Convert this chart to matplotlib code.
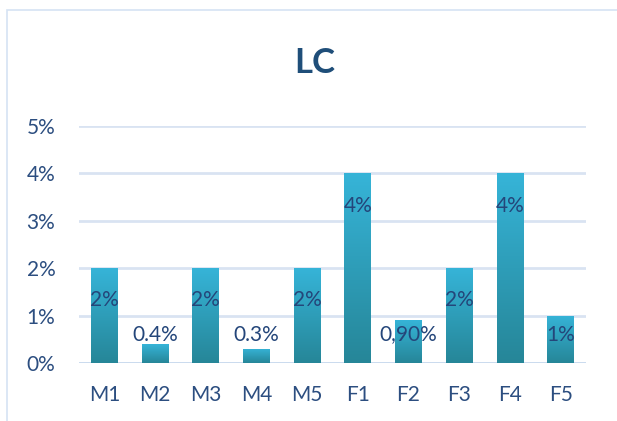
import numpy as np
import matplotlib
matplotlib.use("Agg")
import matplotlib.pyplot as plt
from matplotlib.patches import Rectangle
from matplotlib.colors import LinearSegmentedColormap

# Daten
kategorien = ["M1", "M2", "M3", "M4", "M5", "F1", "F2", "F3", "F4", "F5"]
werte = [2, 0.4, 2, 0.3, 2, 4, 0.9, 2, 4, 1]  # in %
beschriftungen = ["2%", "0.4%", "2%", "0.3%", "2%", "4%", "0,90%", "2%", "4%", "1%"]
y_ticks = [0, 1, 2, 3, 4, 5]

plt.rcParams['font.family'] = ['Lato', 'DejaVu Sans']

fig = plt.figure(figsize=(6.17, 4.21), dpi=100)
ax = fig.add_axes([79 / 617, 0.1378, 507 / 617, 0.5629])

# Rahmen um das Diagramm
fig.patches.append(Rectangle((7 / 617, -0.1), 1.2, 1 - 10 / 421 + 0.1,
                             transform=fig.transFigure, fill=False,
                             edgecolor='#D5E3F3', linewidth=1.2))

x = np.arange(len(kategorien))
bars = ax.bar(x, werte, width=0.53, color='#2E9DBB', zorder=2)

# Farbverlauf in den Balken
cmap = LinearSegmentedColormap.from_list('verlauf', ['#268698', '#36B4D8'])
grad = np.linspace(0, 1, 256).reshape(-1, 1)
for b in bars:
    x0, y0 = b.get_x(), b.get_y()
    im = ax.imshow(grad, cmap=cmap, aspect='auto', origin='lower',
                   extent=[x0, x0 + b.get_width(), y0, y0 + b.get_height()],
                   zorder=3)
    im.set_clip_path(b)

# Datenbeschriftungen
for xi, v, t in zip(x, werte, beschriftungen):
    ax.text(xi, max(v - 0.68, 0.6), t, ha='center', va='center',
            fontsize=15, color='#24467A', zorder=4)

ax.set_xlim(-0.5, len(kategorien) - 0.5)
ax.set_ylim(0, 5)
ax.set_yticks(y_ticks)
ax.set_yticklabels([f"{t}%" for t in y_ticks])
ax.set_xticks(x)
ax.set_xticklabels(kategorien)
ax.tick_params(axis='both', length=0, labelsize=15, colors='#2C4E80')
ax.tick_params(axis='x', pad=16)
ax.tick_params(axis='y', pad=17)

ax.grid(axis='y', color='#D9E3F2', linewidth=2, zorder=0)
ax.set_axisbelow(True)
for s in ax.spines.values():
    s.set_visible(False)
ax.axhline(0, color='#C9DAEE', linewidth=2, zorder=1)

fig.text(0.51, 0.85, "LC", ha='center', va='center', fontsize=25,
         fontweight='bold', color='#1F4E79')

fig.savefig("out.png", dpi=100)
